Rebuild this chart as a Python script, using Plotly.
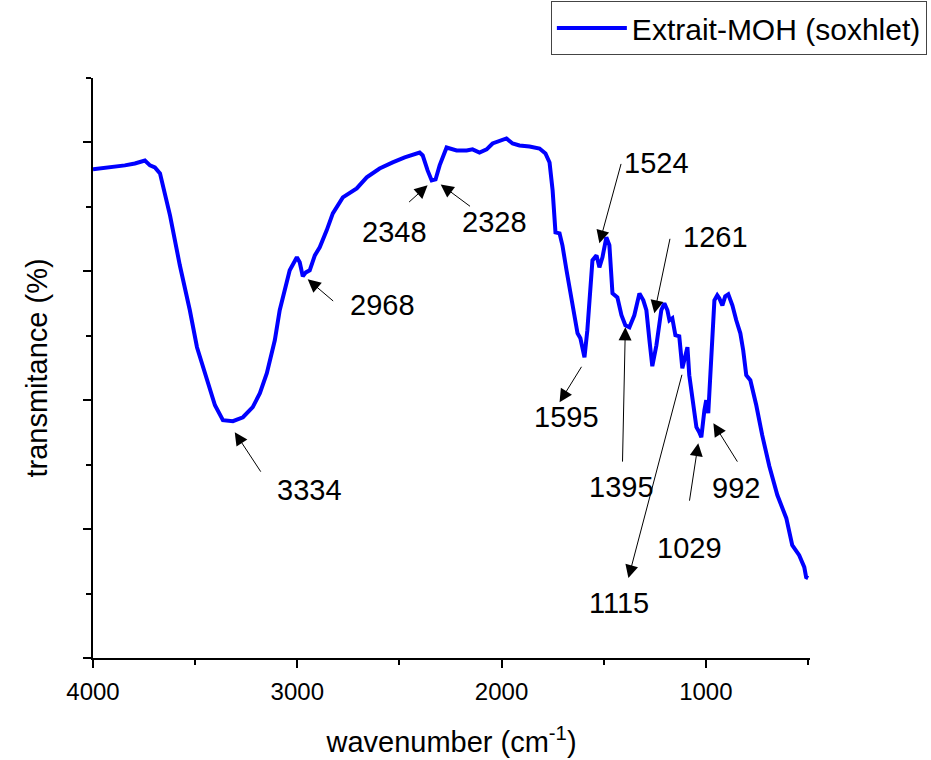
import plotly.graph_objects as go

# FTIR spectrum
wavenumber = [4000, 3917, 3844, 3795, 3746, 3721, 3697, 3672, 3623, 3575, 3526, 3491, 3443, 3403,
              3364, 3315, 3266, 3218, 3183, 3149, 3110, 3086, 3037, 3002, 2988, 2973, 2958, 2939,
              2914, 2890, 2856, 2826, 2777, 2743, 2709, 2660, 2597, 2533, 2474, 2401, 2386, 2362,
              2342, 2323, 2303, 2269, 2220, 2171, 2142, 2108, 2073, 2044, 2010, 1976, 1946, 1912,
              1863, 1814, 1785, 1765, 1750, 1736, 1716, 1702, 1682, 1658, 1628, 1614, 1594, 1580,
              1555, 1535, 1521, 1506, 1487, 1472, 1457, 1433, 1413, 1394, 1374, 1350, 1325, 1306,
              1291, 1276, 1262, 1242, 1218, 1203, 1188, 1178, 1164, 1149, 1130, 1115, 1100, 1090,
              1081, 1066, 1046, 1032, 1022, 1007, 998, 988, 973, 958, 944, 934, 919, 905, 890, 870,
              851, 831, 817, 802, 782, 753, 724, 689, 650, 606, 577, 543, 518, 509, 499]
transmittance = [37.91, 38.06, 38.22, 38.37, 38.60, 38.22, 38.06, 37.60, 34.34, 30.47, 26.98, 24.11,
                 21.55, 19.61, 18.45, 18.37, 18.68, 19.46, 20.54, 22.09, 24.65, 26.98, 30.08, 31.09,
                 30.70, 29.61, 29.92, 30.08, 31.24, 31.86, 33.18, 34.50, 35.74, 36.12, 36.43, 37.29,
                 37.98, 38.45, 38.84, 39.22, 38.99, 37.83, 37.05, 37.13, 38.22, 39.61, 39.38, 39.38,
                 39.46, 39.22, 39.46, 39.92, 40.08, 40.31, 39.92, 39.77, 39.69, 39.53, 39.15, 38.45,
                 36.28, 33.02, 32.95, 32.02, 30.08, 27.75, 25.19, 24.81, 23.33, 25.43, 30.85, 31.24,
                 30.31, 31.09, 32.64, 32.02, 28.29, 27.98, 26.59, 25.81, 25.66, 26.59, 28.29, 27.75,
                 26.98, 24.65, 22.64, 24.26, 26.98, 27.52, 26.98, 26.20, 26.36, 25.04, 24.96, 22.48,
                 23.49, 24.11, 21.94, 20.00, 17.91, 17.52, 17.13, 19.22, 20.00, 18.99, 23.88, 27.75,
                 28.14, 27.91, 27.36, 28.06, 28.22, 27.36, 26.20, 25.19, 23.88, 21.94, 21.55, 19.61,
                 17.29, 14.88, 12.64, 10.85, 8.76, 7.98, 7.05, 6.28, 6.20]

series_name = "Extrait-MOH (soxhlet)"

# peak labels: label text, arrow head (x, y), arrow tail (x, y), text position (x, y)
peak_labels = ["3334", "2968", "2348", "2328", "1524", "1261", "1595", "1395", "1115", "1029", "992"]
head_x = [3306, 2949, 2362, 2298, 1521, 1252, 1716, 1394, 1379, 1037, 963]
head_y = [17.52, 29.38, 36.67, 36.74, 32.17, 26.74, 19.84, 25.66, 6.20, 16.67, 18.22]
tail_x = [3174, 2817, 2460, 2147, 1413, 1174, 1604, 1408, 1115, 1081, 841]
tail_y = [14.34, 27.60, 35.27, 34.96, 38.45, 32.64, 22.71, 15.12, 22.09, 12.09, 15.12]
text_x = [2939, 2582, 2523, 2034, 1242, 953, 1682, 1413, 1423, 1081, 851]
text_y = [13.02, 27.36, 33.02, 33.80, 38.37, 32.64, 18.68, 13.26, 4.26, 8.53, 13.18]

FONT = "Liberation Sans, Arial, sans-serif"

fig = go.Figure()
fig.add_trace(go.Scatter(x=wavenumber, y=transmittance, mode="lines", name=series_name,
                         line=dict(color="#0000FF", width=4), showlegend=True))

annotations = []
for lab, hx, hy, tx, ty, lx, ly in zip(peak_labels, head_x, head_y, tail_x, tail_y, text_x, text_y):
    annotations.append(dict(x=hx, y=hy, ax=tx, ay=ty, xref="x", yref="y", axref="x", ayref="y",
                            text="", showarrow=True, arrowhead=2, arrowsize=2.6, arrowwidth=1,
                            arrowcolor="black", standoff=0, startstandoff=0))
    annotations.append(dict(x=lx, y=ly, xref="x", yref="y", text=lab, showarrow=False,
                            font=dict(family=FONT, size=29, color="black"),
                            xanchor="center", yanchor="middle"))

fig.update_layout(
    width=931, height=760,
    margin=dict(l=93, r=121, t=78, b=102, autoexpand=False),
    paper_bgcolor="white", plot_bgcolor="white",
    font=dict(family=FONT, color="black"),
    showlegend=True,
    legend=dict(x=1.163, y=1.1328, xanchor="right", yanchor="top",
                bordercolor="#444", borderwidth=1, bgcolor="white",
                font=dict(family=FONT, size=30, color="black"),
                itemwidth=70, tracegroupgap=0),
    xaxis=dict(range=[4000, 490], showgrid=False, zeroline=False, automargin=False,
               showline=True, linecolor="black", linewidth=2,
               ticks="outside", ticklen=8, tickwidth=2, tickcolor="black",
               tick0=0, dtick=1000, ticklabelstandoff=3,
               minor=dict(ticks="outside", ticklen=5, tickwidth=2, tickcolor="black", dtick=500, showgrid=False),
               tickfont=dict(family=FONT, size=24, color="black"),
               title=dict(text="wavenumber (cm<sup>-1</sup>)", standoff=28,
                          font=dict(family=FONT, size=29, color="black"))),
    yaxis=dict(range=[0, 45], showgrid=False, zeroline=False, automargin=False,
               showline=True, linecolor="black", linewidth=2,
               ticks="outside", ticklen=8, tickwidth=2, tickcolor="black",
               tick0=0, dtick=10, showticklabels=False,
               minor=dict(ticks="outside", ticklen=5, tickwidth=2, tickcolor="black", dtick=5, showgrid=False),
               title=dict(text="transmitance (%)", standoff=27,
                          font=dict(family=FONT, size=29, color="black"))),
    annotations=annotations,
)

fig.write_html("out.html", config={"displayModeBar": False},
               post_script="document.body.style.margin='0';document.body.style.overflow='hidden';")
